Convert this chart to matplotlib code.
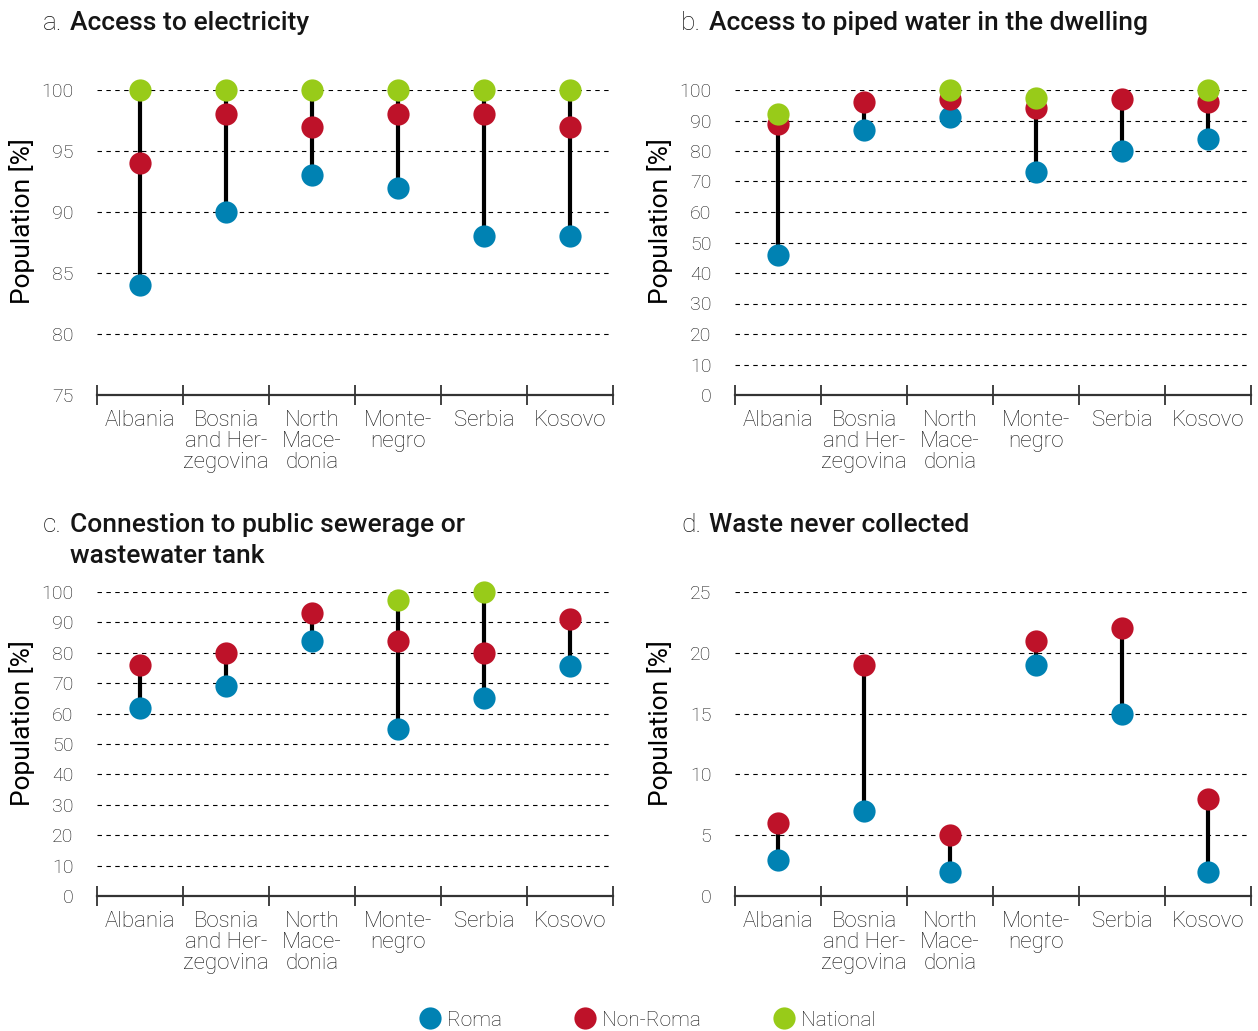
import numpy as np
import matplotlib.pyplot as plt
from matplotlib.lines import Line2D

plt.rcParams['font.family'] = ['Roboto', 'DejaVu Sans']
plt.rcParams['font.weight'] = 'light'

W, H = 1258, 1031

countries = ['Albania', 'Bosnia\nand Her-\nzegovina', 'North\nMace-\ndonia',
             'Monte-\nnegro', 'Serbia', 'Kosovo']

# a. electricity
elec_roma = [84, 90, 93, 92, 88, 88]
elec_nonroma = [94, 98, 97, 98, 98, 97]
elec_national = [100, 100, 100, 100, 100, 100]

# b. piped water
water_roma = [46, 87, 91, 73, 80, 84]
water_nonroma = [89, 96, 97, 94, 97, 96]
water_national = [92, np.nan, 100, 97.5, np.nan, 100]

# c. sewerage
sewer_roma = [62, 69, 84, 55, 65, 75.5]
sewer_nonroma = [76, 80, 93, 84, 80, 91]
sewer_national = [np.nan, np.nan, np.nan, 97.5, 100, np.nan]

# d. waste
waste_roma = [3, 7, 2, 19, 15, 2]
waste_nonroma = [6, 19, 5, 21, 22, 8]
waste_national = [np.nan] * 6

c_roma = '#0082b3'
c_nonroma = '#be1229'
c_national = '#98cb19'
grey = '#333333'
txt = '#151515'


def panel(ax, roma, nonroma, national, lo, hi, step):
    x = np.arange(len(countries)) + 0.5
    vals = np.array([roma, nonroma, national], dtype=float)
    # stem from lowest to highest value in each country
    ax.vlines(x, np.nanmin(vals, axis=0), np.nanmax(vals, axis=0),
              color='black', lw=3, zorder=3)
    for v, c in zip(vals, [c_roma, c_nonroma, c_national]):
        ax.plot(x, v, 'o', color=c, ms=16, mec='none', zorder=4, clip_on=False)

    ax.set_xlim(0, len(countries))
    ax.set_ylim(lo, hi)
    ax.set_yticks(np.arange(lo, hi + step / 2, step))
    ax.yaxis.grid(True, color='black', lw=0.8, ls=(0, (4, 4)))
    ax.set_axisbelow(True)
    ax.tick_params(axis='y', length=0, pad=17, labelsize=14, labelcolor=txt)

    # separators between countries, names centred in between
    ax.set_xticks(np.arange(len(countries) + 1))
    ax.set_xticklabels([])
    ax.tick_params(axis='x', which='major', direction='inout', length=15,
                   width=1.3, color=grey)
    ax.set_xticks(x, minor=True)
    ax.set_xticklabels(countries, minor=True, fontsize=16, color=txt,
                       linespacing=1.0)
    ax.tick_params(axis='x', which='minor', length=0, pad=11)

    for s in ['left', 'right', 'top']:
        ax.spines[s].set_visible(False)
    ax.spines['bottom'].set_color(grey)
    ax.spines['bottom'].set_linewidth(1.6)

    ax.set_ylabel('Population [%]', fontsize=19, weight='normal', va='center',
                  color='black')
    ax.yaxis.set_label_coords(-0.146, 0.57)


fig = plt.figure(figsize=(W / 100, H / 100), dpi=100)

left_a, left_b, width = 97 / W, 735 / W, 516 / W
top_row = (1 - 395 / H, 305 / H)
bot_row = (1 - 896 / H, 304 / H)

ax_a = fig.add_axes([left_a, top_row[0], width, top_row[1]])
ax_b = fig.add_axes([left_b, top_row[0], width, top_row[1]])
ax_c = fig.add_axes([left_a, bot_row[0], width, bot_row[1]])
ax_d = fig.add_axes([left_b, bot_row[0], width, bot_row[1]])

panel(ax_a, elec_roma, elec_nonroma, elec_national, 75, 100, 5)
panel(ax_b, water_roma, water_nonroma, water_national, 0, 100, 10)
panel(ax_c, sewer_roma, sewer_nonroma, sewer_national, 0, 100, 10)
panel(ax_d, waste_roma, waste_nonroma, waste_national, 0, 25, 5)

# panel titles
titles = [
    (43, 70, 30, 'a.', ['Access to electricity']),
    (681, 709, 30, 'b.', ['Access to piped water in the dwelling']),
    (43, 70, 532, 'c.', ['Connestion to public sewerage or', 'wastewater tank']),
    (681, 709, 532, 'd.', ['Waste never collected']),
]
for xl, xt, base, letter, lines in titles:
    fig.text(xl / W, 1 - base / H, letter, fontsize=19, weight='light',
             va='baseline', color=txt)
    for k, line in enumerate(lines):
        fig.text(xt / W, 1 - (base + 31 * k) / H, line, fontsize=19,
                 weight='medium', va='baseline', color=txt)

handles = [Line2D([], [], marker='o', ls='', ms=16, mec='none', color=c)
           for c in [c_roma, c_nonroma, c_national]]
fig.legend(handles, ['Roma', 'Non-Roma', 'National'], loc='center',
           bbox_to_anchor=(0.515, 1 - 1020 / H), ncol=3, frameon=False,
           fontsize=15, columnspacing=3.5, handlelength=1.0,
           handletextpad=0.3, labelcolor=txt)

fig.savefig('out.png', dpi=100)
